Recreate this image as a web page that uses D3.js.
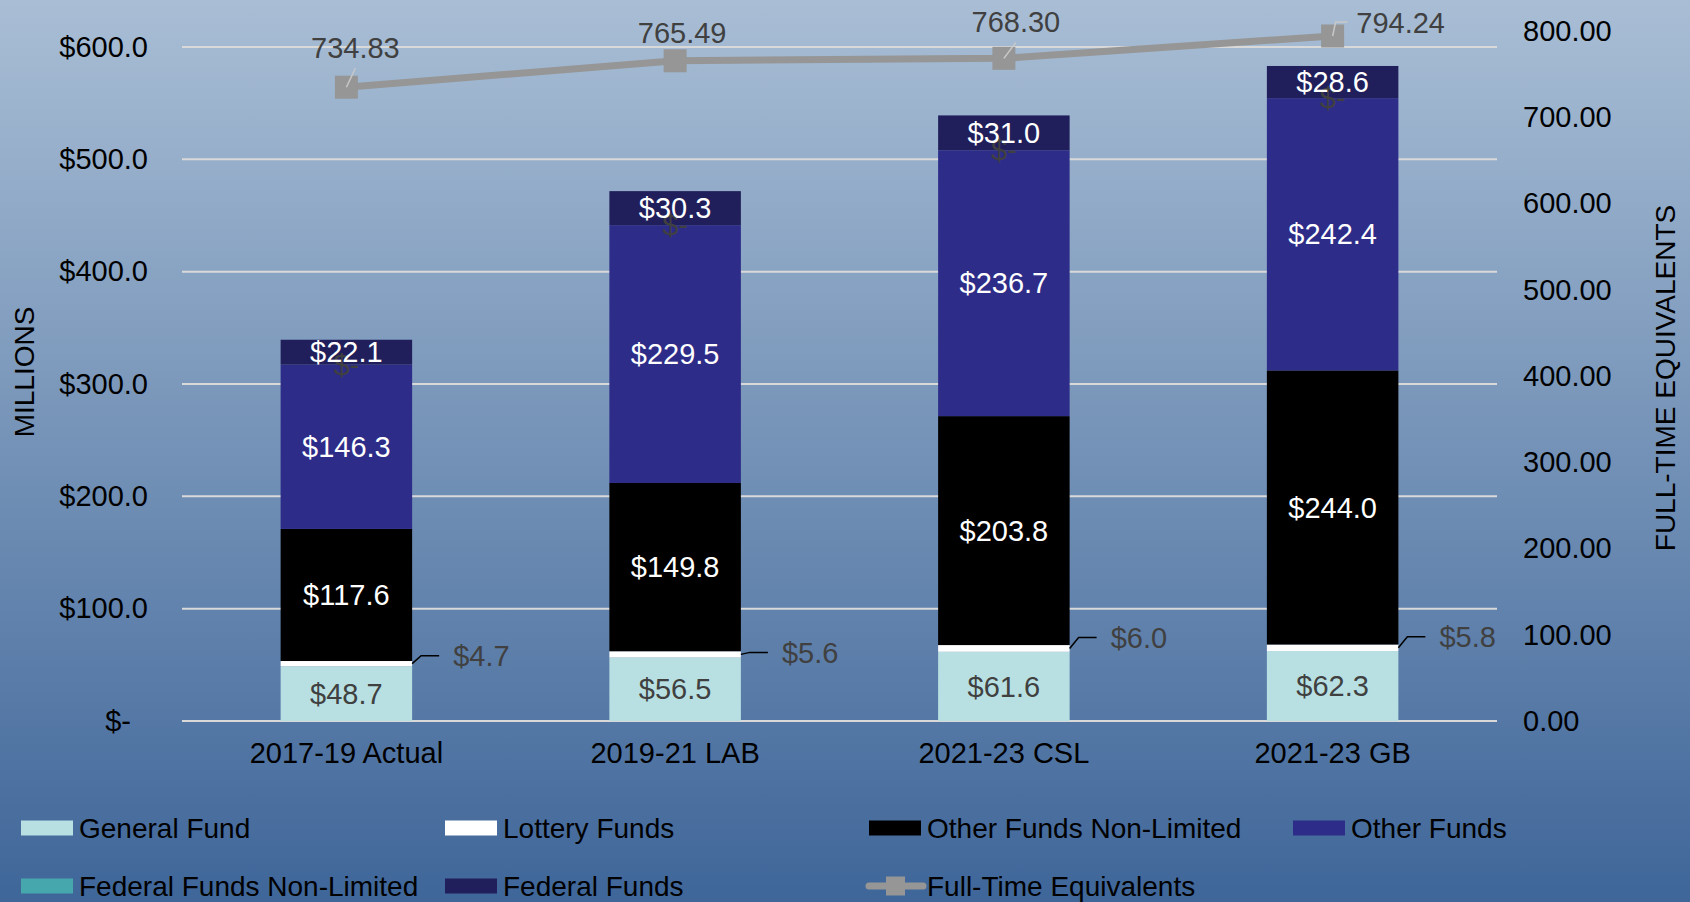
<!DOCTYPE html>
<html>
<head>
<meta charset="utf-8">
<script src="https://cdn.jsdelivr.net/npm/d3@7"></script>
<style>
  body { margin: 0; }
  svg { display: block; font-family: "Liberation Sans", Arial, sans-serif; }
</style>
</head>
<body>
<svg width="1690" height="902"></svg>
<script>
// chart data
var categories = ["2017-19 Actual", "2019-21 LAB", "2021-23 CSL", "2021-23 GB"];
var generalFund = [48.7, 56.5, 61.6, 62.3];
var lotteryFunds = [4.7, 5.6, 6.0, 5.8];
var otherFundsNonLimited = [117.6, 149.8, 203.8, 244.0];
var otherFunds = [146.3, 229.5, 236.7, 242.4];
var federalFundsNonLimited = [0, 0, 0, 0];
var federalFunds = [22.1, 30.3, 31.0, 28.6];
var fte = [734.83, 765.49, 768.30, 794.24];
var moneyTicks = [0, 100, 200, 300, 400, 500, 600];
var fteTicks = [0, 100, 200, 300, 400, 500, 600, 700, 800];

var series = [
  {key: "General Fund", values: generalFund, color: "#b8e0e3", label: "#404040"},
  {key: "Lottery Funds", values: lotteryFunds, color: "#ffffff", label: "#404040"},
  {key: "Other Funds Non-Limited", values: otherFundsNonLimited, color: "#000000", label: "#ffffff"},
  {key: "Other Funds", values: otherFunds, color: "#2d2c88", label: "#ffffff"},
  {key: "Federal Funds Non-Limited", values: federalFundsNonLimited, color: "#46a7ad", label: "#404040"},
  {key: "Federal Funds", values: federalFunds, color: "#201f5b", label: "#ffffff"}
];

var svg = d3.select("svg"),
    width = +svg.attr("width"),
    height = +svg.attr("height"),
    plot = {left: 182, right: 1497, top: 47, bottom: 721};

// background gradient
var grad = svg.append("defs").append("linearGradient")
    .attr("id", "bg").attr("x1", 0).attr("y1", 0).attr("x2", 0).attr("y2", 1);
grad.append("stop").attr("offset", "0%").attr("stop-color", "#a9bed5");
grad.append("stop").attr("offset", "100%").attr("stop-color", "#3f6699");
svg.append("rect").attr("width", width).attr("height", height).attr("fill", "url(#bg)");

var x = d3.scaleBand().domain(categories).range([plot.left, plot.right]);
var barW = x.bandwidth() * 0.4;
var y = d3.scaleLinear().domain([0, 600]).range([plot.bottom, plot.top]);
var y2 = d3.scaleLinear().domain([0, 800]).range([plot.bottom, 31]);

var money = d3.format("$.1f");
function moneyLabel(v) { return v === 0 ? "$-" : money(v); }

// gridlines
svg.append("g")
  .selectAll("line")
  .data(moneyTicks)
  .enter().append("line")
    .attr("x1", plot.left).attr("x2", plot.right)
    .attr("y1", function(d) { return y(d); })
    .attr("y2", function(d) { return y(d); })
    .attr("stroke", "#d9d9d9")
    .attr("stroke-width", 2);

// left axis
var leftAxis = svg.append("g")
    .attr("transform", "translate(" + plot.left + ",0)")
    .call(d3.axisLeft(y).tickValues(moneyTicks).tickSize(0).tickPadding(34).tickFormat(moneyLabel));
leftAxis.select(".domain").remove();
leftAxis.selectAll("text")
    .attr("font-size", 29).attr("font-family", null).attr("fill", "#000")
    .attr("dx", function(d) { return d === 0 ? -17 : 0; });

// right axis
var rightAxis = svg.append("g")
    .attr("transform", "translate(" + plot.right + ",0)")
    .call(d3.axisRight(y2).tickValues(fteTicks).tickSize(0).tickPadding(26).tickFormat(d3.format(".2f")));
rightAxis.select(".domain").remove();
rightAxis.selectAll("text").attr("font-size", 29).attr("font-family", null).attr("fill", "#000");

// bottom axis
var bottomAxis = svg.append("g")
    .attr("transform", "translate(0," + plot.bottom + ")")
    .call(d3.axisBottom(x).tickSize(0));
bottomAxis.select(".domain").remove();
bottomAxis.selectAll("text")
    .attr("font-size", 29).attr("font-family", null).attr("fill", "#000")
    .attr("y", 32).attr("dy", "0.35em");

// axis titles
svg.append("text")
    .attr("transform", "translate(34,372) rotate(-90)")
    .attr("text-anchor", "middle")
    .attr("font-size", 28)
    .text("MILLIONS");
svg.append("text")
    .attr("transform", "translate(1675,378) rotate(-90)")
    .attr("text-anchor", "middle")
    .attr("font-size", 28)
    .text("FULL-TIME EQUIVALENTS");

// stacked bars
var table = categories.map(function(c, i) {
  var row = {category: c};
  series.forEach(function(s) { row[s.key] = s.values[i]; });
  return row;
});
var stack = d3.stack().keys(series.map(function(s) { return s.key; }))(table);

var layers = svg.append("g").selectAll("g")
  .data(stack)
  .enter().append("g")
    .attr("fill", function(d, i) { return series[i].color; });

layers.selectAll("rect")
  .data(function(d) { return d; })
  .enter().append("rect")
    .attr("x", function(d) { return x(d.data.category) + (x.bandwidth() - barW) / 2; })
    .attr("y", function(d) { return y(d[1]); })
    .attr("width", barW)
    .attr("height", function(d) { return y(d[0]) - y(d[1]); });

// FTE line
var fteLine = d3.line()
    .x(function(d, i) { return x(categories[i]) + x.bandwidth() / 2; })
    .y(function(d) { return y2(d); });

svg.append("path")
    .datum(fte)
    .attr("d", fteLine)
    .attr("fill", "none")
    .attr("stroke", "#969696")
    .attr("stroke-width", 7);

svg.append("g").selectAll("rect")
  .data(fte)
  .enter().append("rect")
    .attr("x", function(d, i) { return x(categories[i]) + x.bandwidth() / 2 - 11.5; })
    .attr("y", function(d) { return y2(d) - 11.5; })
    .attr("width", 23).attr("height", 23)
    .attr("fill", "#969696");

// FTE labels with leader lines
var fteOffsets = [[9, -39], [7, -28], [12, -36], [68, -13]];
fte.forEach(function(v, i) {
  var px = x(categories[i]) + x.bandwidth() / 2, py = y2(v),
      lx = px + fteOffsets[i][0], ly = py + fteOffsets[i][1];
  if (fteOffsets[i][0] > 30) {
    svg.append("polyline")
        .attr("points", [[px, py], [px + 3, ly - 1], [px + 15, ly - 1]].join(" "))
        .attr("fill", "none").attr("stroke", "#c8c8c8").attr("stroke-width", 1.5);
  } else if (Math.hypot(fteOffsets[i][0], fteOffsets[i][1]) > 32) {
    svg.append("line")
        .attr("x1", px).attr("y1", py).attr("x2", lx).attr("y2", ly + 20)
        .attr("stroke", "#c8c8c8").attr("stroke-width", 1.5);
  }
  svg.append("text")
      .attr("x", lx).attr("y", ly).attr("dy", "0.35em")
      .attr("text-anchor", "middle")
      .attr("font-size", 29).attr("fill", "#404040")
      .text(d3.format(".2f")(v));
});

// segment labels (lottery labels sit outside, moved up by these amounts)
var lotteryLabelLift = [8, 2, 11, 11];
stack.forEach(function(layer, si) {
  layer.forEach(function(d, i) {
    var cx = x(d.data.category) + x.bandwidth() / 2,
        cy = (y(d[0]) + y(d[1])) / 2,
        v = series[si].values[i];
    if (series[si].key === "Lottery Funds") {
      var ex = cx + barW / 2, ly = cy - lotteryLabelLift[i];
      svg.append("polyline")
          .attr("points", [[ex, cy], [ex + 9, ly], [ex + 27, ly]].join(" "))
          .attr("fill", "none").attr("stroke", "#000").attr("stroke-width", 1.5);
      svg.append("text")
          .attr("x", ex + 41).attr("y", ly).attr("dy", "0.35em")
          .attr("font-size", 29).attr("fill", series[si].label)
          .text(moneyLabel(v));
    } else {
      svg.append("text")
          .attr("x", cx).attr("y", cy).attr("dy", "0.35em")
          .attr("text-anchor", "middle")
          .attr("font-size", 29).attr("fill", series[si].label)
          .text(moneyLabel(v));
    }
  });
});

// legend, four entries per row
var legendCols = [21, 445, 869, 1293], legendRows = [828, 886];
var legendItems = series.map(function(s) { return {name: s.key, color: s.color, type: "box"}; })
    .concat([{name: "Full-Time Equivalents", color: "#969696", type: "line"}]);

var legend = svg.append("g").selectAll("g")
  .data(legendItems)
  .enter().append("g")
    .attr("transform", function(d, i) {
      return "translate(" + legendCols[i % 4] + "," + legendRows[Math.floor(i / 4)] + ")";
    });

legend.each(function(d) {
  var g = d3.select(this);
  if (d.type === "box") {
    g.append("rect").attr("x", 0).attr("y", -7.5).attr("width", 52).attr("height", 15).attr("fill", d.color);
  } else {
    g.append("line").attr("x1", 0).attr("x2", 54).attr("y1", 0).attr("y2", 0)
        .attr("stroke", d.color).attr("stroke-width", 7).attr("stroke-linecap", "round");
    g.append("rect").attr("x", 17).attr("y", -9.5).attr("width", 19).attr("height", 19).attr("fill", d.color);
  }
  g.append("text")
      .attr("x", 58).attr("y", 0).attr("dy", "0.35em")
      .attr("font-size", 28).attr("fill", "#000")
      .text(d.name);
});
</script>
</body>
</html>
